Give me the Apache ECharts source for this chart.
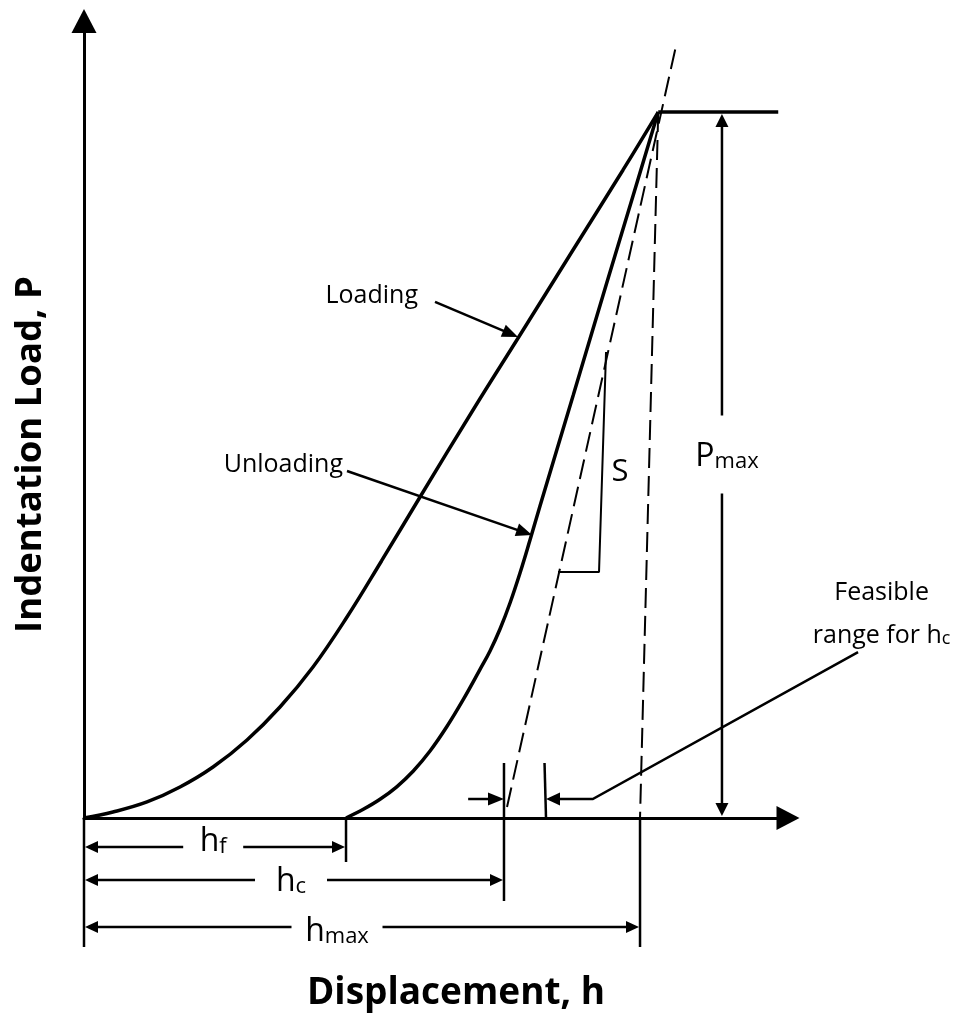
<!DOCTYPE html>
<html>
<head>
<meta charset="utf-8">
<script src="https://cdn.jsdelivr.net/npm/echarts@6/dist/echarts.min.js"></script>
<style>html,body{margin:0;padding:0;background:#fff}#c{width:959px;height:1019px}</style>
</head>
<body>
<div id="c"></div>
<script>
// ---------------- data (arbitrary units: h in % of peak depth, P in % of Pmax) ----------------
const loadingH   = [0, 5.05, 10.97, 16.72, 22.47, 28.39, 34.13, 39.88, 45.80, 51.81, 58.52, 67.75, 75.93, 85.16, 93.87, 100];
const loadingP   = [0, 0.85, 2.27, 4.39, 7.22, 11.05, 15.72, 21.39, 28.47, 36.41, 45.47, 57.80, 68.42, 80.46, 91.80, 100];
const unloadingH = [45.63, 48.64, 51.55, 54.46, 57.35, 60.26, 63.17, 66.06, 68.97, 70.71, 72.45, 74.19, 75.93, 77.67, 79.41, 85.21, 91.03, 95.66, 100];
const unloadingP = [0, 1.23, 2.65, 4.42, 6.66, 9.49, 12.92, 16.80, 21.05, 23.66, 26.77, 30.46, 34.71, 39.38, 44.20, 59.92, 75.79, 88.26, 100];
const peakH = 100, Pmax = 100;
const hf = 45.63, hc = 73.14, hmax = 96.83, hcUpper = 80.46;
const tangentH = [73.67, 103.1];
const tangentP = [1.56, 109.4];
const slopeTriH = [82.55, 89.69, 90.91];
const slopeTriP = [34.85, 34.85, 66.0];
const dimLabels = ['h|f', 'h|c', 'h|max'];
const dimValues = [hf, hc, hmax];
const xTitle = 'Displacement, h';
const yTitle = 'Indentation Load, P';

// ---------------- layout / style ----------------
const X_MAX = 122.6, Y_MAX = 112.9;
const INK = '#000';
const FONT = '"Open Sans", "DejaVu Sans", sans-serif';
const L = { // annotation anchor positions (data units) and sizes
  topLineEnd: 120.9,
  pmaxH: 111.1, pmaxLabel: [111.98, 51.5], pmaxGap: 78,
  dimRowP: [-4.11, -8.78, -15.44], dimLabelH: [22.5, 36.05, 44.06], dimLabelP: [-3.12, -8.71, -15.86], dimGap: [60, 72, 91],
  extBottom: -18.27, hfExtBottom: -6.23, hcExt: [7.79, -11.76], hcUpperTop: [80.2, 7.79],
  feasP: 2.69, feasLeftStart: 66.9, feasBend: 88.6, feasEnd: [134.8, 23.5],
  feasText: [138.9, 29.3],
  loadArrow: [[61.13, 73.1], [75.58, 68.14]], unloadArrow: [[45.8, 49.16], [78.02, 40.09]],
  loadText: [58.17, 73.95], unloadText: [45.1, 50.0], sText: [93.35, 49.0]
};

const zip = (a, b) => a.map((v, i) => [v, b[i]]);

const RICH = {
  m: { fontSize: 32, lineHeight: 36, verticalAlign: 'bottom', fontFamily: FONT, fill: INK },
  s: { fontSize: 22, lineHeight: 18, verticalAlign: 'bottom', fontFamily: FONT, fill: INK },
  n: { fontSize: 25, lineHeight: 37, verticalAlign: 'bottom', fontFamily: FONT, fill: INK },
  c: { fontSize: 18, lineHeight: 24, verticalAlign: 'bottom', fontFamily: FONT, fill: INK }
};
function sub(str) { const [a, b] = str.split('|'); return '{m|' + a + '}{s|' + b + '}'; }

function renderAnno(params, api) {
  const C = (h, p) => api.coord([h, p]);
  const kids = [];
  function seg(a, b, w) {
    kids.push({ type: 'line', shape: { x1: a[0], y1: a[1], x2: b[0], y2: b[1] }, style: { stroke: INK, lineWidth: w } });
  }
  function poly(pts, w) {
    kids.push({ type: 'polyline', shape: { points: pts }, style: { stroke: INK, lineWidth: w, fill: null } });
  }
  function head(tip, from, len, hw) {
    const dx = tip[0] - from[0], dy = tip[1] - from[1];
    const d = Math.hypot(dx, dy), ux = dx / d, uy = dy / d;
    const bx = tip[0] - ux * len, by = tip[1] - uy * len;
    kids.push({ type: 'polygon', shape: { points: [tip, [bx - uy * hw, by + ux * hw], [bx + uy * hw, by - ux * hw]] }, style: { fill: INK } });
    return [bx + ux * 1, by + uy * 1];
  }
  function text(pt, t, st) {
    kids.push({ type: 'text', x: pt[0], y: pt[1], style: Object.assign({ text: t, align: 'center', verticalAlign: 'middle', fill: INK, fontFamily: FONT, fontSize: 25, rich: RICH }, st || {}) });
  }
  // dimension rows hf, hc, hmax
  dimValues.forEach((v, i) => {
    const y = L.dimRowP[i];
    const a = C(0, y), b = C(v, y);
    a[0] += 1; b[0] -= 1;
    const lc = C(L.dimLabelH[i], y);
    const g = L.dimGap[i] / 2;
    const ba = head(a, b, 13, 6), bb = head(b, a, 13, 6);
    seg(ba, [lc[0] - g, a[1]], 2.5);
    seg([lc[0] + g, a[1]], bb, 2.5);
    text(C(L.dimLabelH[i], L.dimLabelP[i]), sub(dimLabels[i]));
  });
  // extension lines
  seg(C(0, 0), C(0, L.extBottom), 2.5);
  seg(C(hmax, 0), C(hmax, L.extBottom), 2.5);
  seg(C(hf, 0), C(hf, L.hfExtBottom), 2.5);
  seg(C(hc, L.hcExt[0]), C(hc, L.hcExt[1]), 2.5);
  seg(C(hcUpper, 0), C(L.hcUpperTop[0], L.hcUpperTop[1]), 2.5);
  // Pmax dimension
  const pt = C(L.pmaxH, Pmax), pb = C(L.pmaxH, 0);
  pt[1] += 2; pb[1] -= 2;
  const pl = C(L.pmaxLabel[0], L.pmaxLabel[1]);
  const lc = C(L.pmaxH, L.pmaxLabel[1]);
  const bt = head(pt, pb, 13, 6.5), bb = head(pb, pt, 13, 6.5);
  seg(bt, [pt[0], lc[1] - L.pmaxGap / 2], 2.5);
  seg([pt[0], lc[1] + L.pmaxGap / 2], bb, 2.5);
  text(pl, sub('P|max'));
  // feasible range arrows
  const fl0 = C(L.feasLeftStart, L.feasP), flt = C(hc, L.feasP);
  seg(fl0, head(flt, fl0, 16, 6.5), 2.5);
  const frt = C(hcUpper, L.feasP), frb = C(L.feasBend, L.feasP), fre = C(L.feasEnd[0], L.feasEnd[1]);
  poly([head(frt, frb, 14, 6.5), frb, fre], 2.5);
  text(C(L.feasText[0], L.feasText[1]), 'Feasible\n{n|range for h}{c|c}', { lineHeight: 37 });
  // leader arrows
  [L.loadArrow, L.unloadArrow].forEach(ar => {
    const s = C(ar[0][0], ar[0][1]), t = C(ar[1][0], ar[1][1]);
    seg(s, head(t, s, 16, 6.5), 2.5);
  });
  text(C(L.loadText[0], L.loadText[1]), 'Loading', { align: 'right' });
  text(C(L.unloadText[0], L.unloadText[1]), 'Unloading', { align: 'right' });
  text(C(L.sText[0], L.sText[1]), 'S', { fontSize: 31 });
  return { type: 'group', children: kids };
}

const lineBase = { type: 'line', showSymbol: false, symbol: 'none', clip: false, silent: true, animation: false };

const chart = echarts.init(document.getElementById('c'), null, { renderer: 'canvas' });
chart.setOption({
  animation: false,
  backgroundColor: '#fff',
  grid: { left: 84, top: 21, width: 704, height: 797, containLabel: false },
  xAxis: {
    type: 'value', min: 0, max: X_MAX,
    axisLine: { show: true, onZero: false, symbol: ['none', 'triangle'], symbolSize: [24, 23], lineStyle: { color: INK, width: 3 } },
    axisTick: { show: false }, axisLabel: { show: false }, splitLine: { show: false }
  },
  yAxis: {
    type: 'value', min: 0, max: Y_MAX,
    axisLine: { show: true, onZero: false, symbol: ['none', 'triangle'], symbolSize: [25, 24], lineStyle: { color: INK, width: 3 } },
    axisTick: { show: false }, axisLabel: { show: false }, splitLine: { show: false }
  },
  graphic: [
    { type: 'text', x: 31, y: 454.5, rotation: Math.PI / 2, style: { text: yTitle, fontFamily: FONT, fontWeight: 'bold', fontSize: 36.5, fill: INK, align: 'center', verticalAlign: 'middle', textAlign: 'center', textVerticalAlign: 'middle' } },
    { type: 'text', x: 456, y: 993.5, style: { text: xTitle, fontFamily: FONT, fontWeight: 'bold', fontSize: 37, fill: INK, align: 'center', verticalAlign: 'middle', textAlign: 'center', textVerticalAlign: 'middle' } }
  ],
  series: [
    Object.assign({}, lineBase, { name: 'Loading', data: zip(loadingH, loadingP), smooth: 0.4, lineStyle: { color: INK, width: 3.5 }, z: 4 }),
    Object.assign({}, lineBase, { name: 'Unloading', data: zip(unloadingH, unloadingP), smooth: 0.4, lineStyle: { color: INK, width: 3.5 }, z: 4 }),
    Object.assign({}, lineBase, { name: 'Hold', data: [[peakH, Pmax], [L.topLineEnd, Pmax]], lineStyle: { color: INK, width: 3.5 }, z: 4 }),
    Object.assign({}, lineBase, { name: 'Tangent', data: zip(tangentH, tangentP), lineStyle: { color: INK, width: 2, type: [20, 8] }, z: 3 }),
    Object.assign({}, lineBase, { name: 'hmax', data: [[peakH, Pmax], [hmax, 0]], lineStyle: { color: INK, width: 2, type: [20, 8] }, z: 3 }),
    Object.assign({}, lineBase, { name: 'S', data: zip(slopeTriH, slopeTriP), lineStyle: { color: INK, width: 2 }, z: 3 }),
    { type: 'custom', coordinateSystem: 'cartesian2d', clip: false, silent: true, z: 5, data: [[0, 0]], renderItem: renderAnno }
  ]
});
</script>
</body>
</html>
